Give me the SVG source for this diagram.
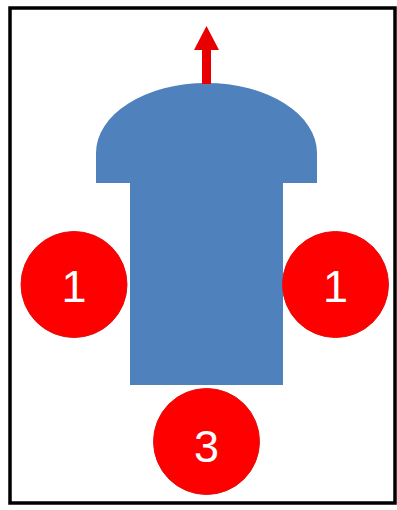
<svg xmlns="http://www.w3.org/2000/svg" width="397" height="510" viewBox="0 0 397 510">
<style>
.badge{fill:#FF0000;stroke:#E01010;stroke-width:1}
.num{fill:#FFFFFF;font-family:"Liberation Sans",Arial,sans-serif;font-size:45px;text-anchor:middle}
</style>
<rect x="0" y="0" width="397" height="510" fill="#FFFFFF"/>
<rect x="10" y="8" width="385" height="495" fill="none" stroke="#000000" stroke-width="3.5"/>
<g id="robot">
<path d="M96,183 L96,153 A110.5,70 0 0 1 317,153 L317,183 L283,183 L283,385 L130,385 L130,183 Z" fill="#4F81BD"/>
</g>
<g id="connectors">
<path d="M202,84 L202,50 L194,50 L206.5,26 L219,50 L211,50 L211,84 Z" fill="#E80000"/>
</g>
<g id="left">
<circle class="badge" cx="74" cy="284.5" r="53"/>
<text class="num" x="74" y="302">1</text>
</g>
<g id="right">
<circle class="badge" cx="335.5" cy="284.5" r="53"/>
<text class="num" x="335.5" y="302">1</text>
</g>
<g id="bottom">
<circle class="badge" cx="206.5" cy="441.5" r="53"/>
<text class="num" x="206.5" y="462">3</text>
</g>
</svg>
